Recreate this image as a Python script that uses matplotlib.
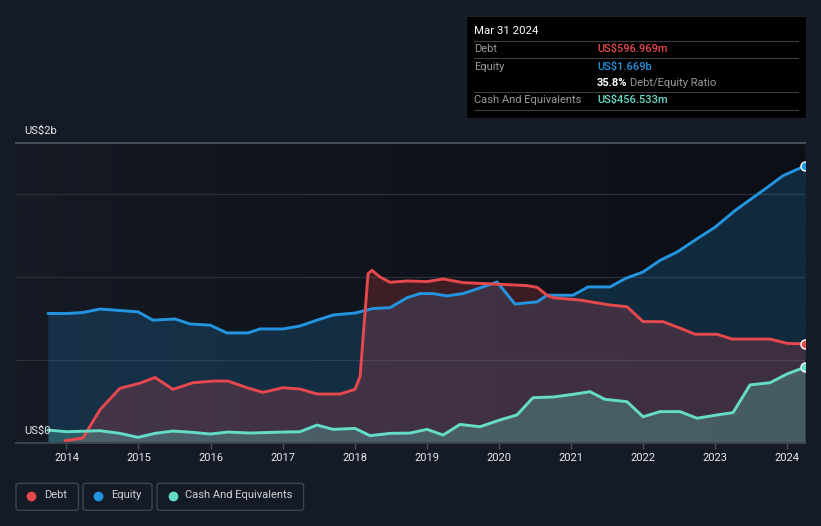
import numpy as np
import matplotlib
matplotlib.use("Agg")
import matplotlib.pyplot as plt
from matplotlib.patches import Rectangle, FancyBboxPatch
from matplotlib.lines import Line2D

# ---------------- data (US$ billions, decimal years) ----------------
equity_t = [2013.743, 2014.007, 2014.229, 2014.465, 2014.743, 2014.993, 2015.201, 2015.506,
            2015.715, 2015.992, 2016.228, 2016.520, 2016.686, 2017.006, 2017.242, 2017.478,
            2017.700, 2018.005, 2018.255, 2018.491, 2018.727, 2018.908, 2019.088, 2019.282,
            2019.504, 2019.740, 2019.976, 2020.225, 2020.531, 2020.670, 2021.030, 2021.239,
            2021.544, 2021.752, 2022.002, 2022.238, 2022.474, 2022.752, 2023.002, 2023.279,
            2023.695, 2023.945, 2024.250]
equity_v = [0.78, 0.78, 0.786, 0.807, 0.798, 0.79, 0.74, 0.747, 0.717, 0.71, 0.663, 0.663,
            0.687, 0.687, 0.705, 0.74, 0.771, 0.783, 0.81, 0.815, 0.875, 0.9, 0.9, 0.886,
            0.9, 0.934, 0.97, 0.837, 0.85, 0.89, 0.89, 0.94, 0.94, 0.99, 1.03, 1.10, 1.15,
            1.23, 1.30, 1.40, 1.53, 1.61, 1.669]

debt_t = [2013.979, 2014.229, 2014.465, 2014.743, 2015.020, 2015.229, 2015.478, 2015.756,
          2016.034, 2016.242, 2016.506, 2016.728, 2017.006, 2017.242, 2017.478, 2017.797,
          2018.005, 2018.075, 2018.186, 2018.240, 2018.351, 2018.491, 2018.727, 2019.005,
          2019.227, 2019.504, 2020.018, 2020.392, 2020.531, 2020.670, 2020.753, 2021.128,
          2021.544, 2021.780, 2022.002, 2022.280, 2022.557, 2022.724, 2023.029, 2023.237,
          2023.765, 2024.001, 2024.250]
debt_v = [0.014, 0.03, 0.2, 0.33, 0.36, 0.395, 0.323, 0.363, 0.373, 0.373, 0.333, 0.305,
          0.333, 0.325, 0.295, 0.295, 0.323, 0.40, 1.02, 1.04, 1.0, 0.968, 0.976, 0.972,
          0.988, 0.966, 0.956, 0.948, 0.938, 0.89, 0.875, 0.861, 0.831, 0.821, 0.731,
          0.731, 0.685, 0.655, 0.655, 0.626, 0.626, 0.60, 0.597]

cash_t = [2013.743, 2014.007, 2014.465, 2014.743, 2014.993, 2015.229, 2015.478, 2015.756,
          2015.992, 2016.242, 2016.548, 2017.006, 2017.242, 2017.478, 2017.700, 2018.005,
          2018.214, 2018.491, 2018.769, 2019.005, 2019.227, 2019.463, 2019.740, 2020.018,
          2020.253, 2020.475, 2020.753, 2021.030, 2021.266, 2021.474, 2021.780, 2022.002,
          2022.238, 2022.516, 2022.752, 2023.029, 2023.251, 2023.487, 2023.765, 2024.001,
          2024.250]
cash_v = [0.078, 0.068, 0.074, 0.058, 0.034, 0.058, 0.072, 0.064, 0.054, 0.066, 0.06,
          0.066, 0.068, 0.108, 0.082, 0.088, 0.044, 0.058, 0.06, 0.082, 0.048, 0.112,
          0.098, 0.139, 0.169, 0.273, 0.277, 0.293, 0.309, 0.263, 0.249, 0.158, 0.189,
          0.189, 0.149, 0.169, 0.183, 0.35, 0.363, 0.416, 0.4565]

year_ticks = [2014, 2015, 2016, 2017, 2018, 2019, 2020, 2021, 2022, 2023, 2024]
legend_labels = ["Debt", "Equity", "Cash And Equivalents"]
tooltip_date = "Mar 31 2024"
tooltip_rows = [("Debt", "US$596.969m"), ("Equity", "US$1.669b"),
                ("", "35.8%"), ("Cash And Equivalents", "US$456.533m")]

# ---------------- style ----------------
W, H = 821, 526
BG = "#151b26"
C_DEBT = "#e5484d"
C_EQ = "#2394df"
C_CASH = "#64dcc8"
plt.rcParams["font.family"] = ["Roboto", "DejaVu Sans"]

fig = plt.figure(figsize=(W / 100, H / 100), dpi=100, facecolor=BG)


def fx(x):
    return x / W


def fy(y):
    return 1 - y / H


ax_l, ax_r, ax_t, ax_b = 16, 805, 143, 443
ax = fig.add_axes([fx(ax_l), fy(ax_b), fx(ax_r) - fx(ax_l), fy(ax_t) - fy(ax_b)])
xmin, xmax = 2013.30, 2024.25
ymin, ymax = 0.0, 1.807
ax.set_xlim(xmin, xmax)
ax.set_ylim(ymin, ymax)
ax.set_facecolor(BG)

# gradient background inside plot area
grad = np.linspace(0, 1, 256).reshape(1, -1) ** 0.8
c0 = np.array([0x15, 0x1a, 0x24]) / 255
c1 = np.array([0x0c, 0x0f, 0x15]) / 255
img = c0[None, None, :] * (1 - grad[..., None]) + c1[None, None, :] * grad[..., None]
ax.imshow(img, extent=[xmin, xmax, ymin, ymax], aspect="auto", zorder=0,
          interpolation="bilinear")

for s in ax.spines.values():
    s.set_visible(False)

# gridlines
for g in [0.5, 1.0, 1.5]:
    ax.axhline(g, color="#2a2f38", lw=0.9, zorder=1)
ax.axhline(ymax, color="#4a4f57", lw=1.4, zorder=1, clip_on=False)
ax.axhline(0, color="#3d434c", lw=1.4, zorder=6, clip_on=False)

# fills
ax.fill_between(equity_t, 0, equity_v, color=C_EQ, alpha=0.2, lw=0, zorder=2)
ax.fill_between(debt_t, 0, debt_v, color=C_DEBT, alpha=0.22, lw=0, zorder=3)
ax.fill_between(cash_t, 0, cash_v, color=C_CASH, alpha=0.26, lw=0, zorder=4)

# lines
ax.plot(equity_t, equity_v, color=C_EQ, lw=2.1, zorder=5, solid_joinstyle="round",
        solid_capstyle="round")
ax.plot(debt_t, debt_v, color=C_DEBT, lw=2.1, zorder=5, solid_joinstyle="round",
        solid_capstyle="round")
ax.plot(cash_t, cash_v, color=C_CASH, lw=2.1, zorder=5, solid_joinstyle="round",
        solid_capstyle="round")

# end markers
for t, v, c in [(equity_t, equity_v, C_EQ), (debt_t, debt_v, C_DEBT), (cash_t, cash_v, C_CASH)]:
    ax.plot([t[-1]], [v[-1]], "o", ms=6.5, mfc=c, mec="white", mew=1.0, zorder=7)

# ticks
ax.set_yticks([])
ax.set_xticks(year_ticks)
ax.set_xticklabels([str(y) for y in year_ticks])
ax.tick_params(axis="x", colors="#4a4f57", length=4, width=1, pad=3,
               labelcolor="#e8e8e8", labelsize=8)

# y labels
fig.text(fx(24), fy(131), "US$2b", color="#e8e8e8", fontsize=8, va="center", ha="left")
fig.text(fx(24), fy(431), "US$0", color="#e8e8e8", fontsize=8, va="center", ha="left",
         zorder=10)

# tooltip
fig.patches.append(Rectangle((fx(466), fy(118)), fx(806) - fx(466), fy(16) - fy(118),
                             transform=fig.transFigure, facecolor="#000000",
                             edgecolor="#1c2129", lw=0.8, zorder=20))
fig.text(fx(474), fy(31), tooltip_date, color="#ffffff", fontsize=8.2, va="center",
         ha="left", zorder=21)
for ly in [41, 58.3, 92.3, 110]:
    fig.add_artist(Line2D([fx(474), fx(798)], [fy(ly), fy(ly)], transform=fig.transFigure,
                          color="#3a3f47", lw=0.8, zorder=21))
row_y = [49.3, 66.5, 83.3, 100.2]
row_colors = [C_DEBT, C_EQ, "#ffffff", C_CASH]
for (lab, val), yy, col in zip(tooltip_rows, row_y, row_colors):
    if lab:
        fig.text(fx(474), fy(yy), lab, color="#9a9a9a", fontsize=8, va="center",
                 ha="left", zorder=21)
    fig.text(fx(597), fy(yy), val, color=col, fontsize=8, va="center", ha="left",
             zorder=21, fontweight="bold" if lab == "" else "medium")
    if lab == "":
        fig.text(fx(630), fy(yy), "Debt/Equity Ratio", color="#9a9a9a", fontsize=8,
                 va="center", ha="left", zorder=21)

# legend boxes
boxes = [(16, 78.5), (83, 152), (157, 303.6)]
dots = [31.4, 98.4, 172.8]
texts_x = [44, 111, 184.8]
cols = [C_DEBT, C_EQ, C_CASH]
for (x0, x1), dx, tx, lab, c in zip(boxes, dots, texts_x, legend_labels, cols):
    fig.patches.append(FancyBboxPatch((fx(x0), fy(510.3)), fx(x1) - fx(x0),
                                      fy(483.3) - fy(510.3),
                                      boxstyle="round,pad=0,rounding_size=0.004",
                                      transform=fig.transFigure, facecolor="none",
                                      edgecolor="#3f4550", lw=1.0))
    fig.add_artist(Line2D([fx(dx)], [fy(495.5)], transform=fig.transFigure, marker="o",
                          ms=6, mfc=c, mec=c, lw=0))
    fig.text(fx(tx), fy(495.5), lab, color="#d0d0d0", fontsize=8, va="center", ha="left")

fig.savefig("out.png", dpi=100, facecolor=BG)
